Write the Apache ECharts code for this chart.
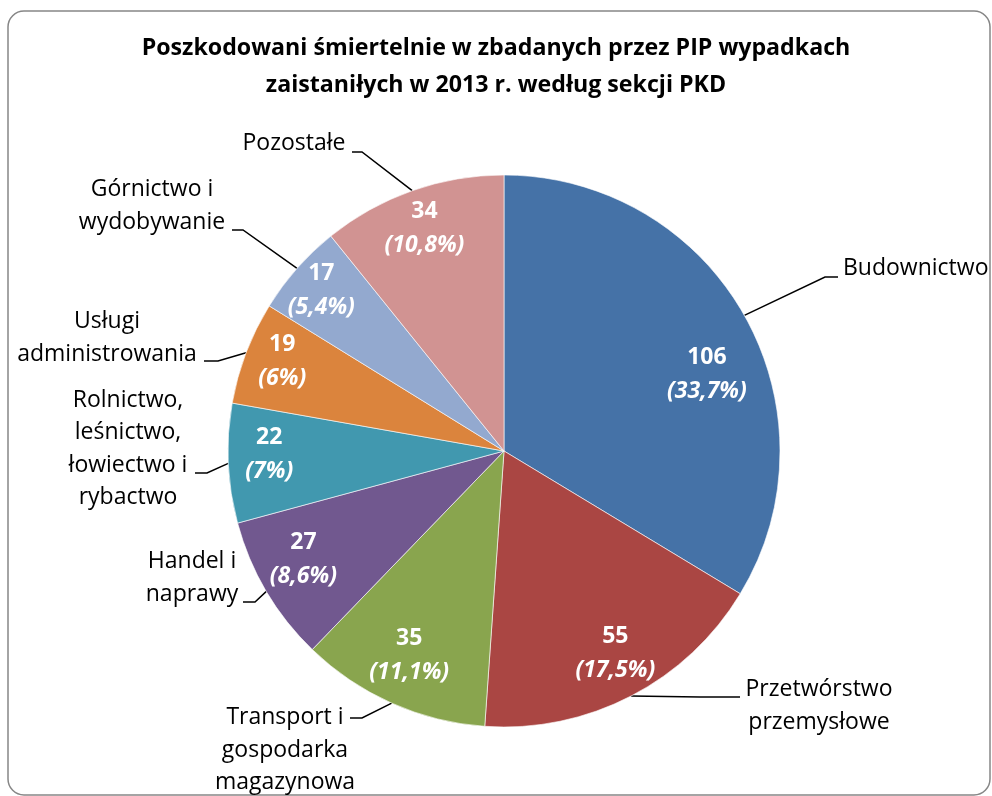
<!DOCTYPE html>
<html lang="pl">
<head>
    <meta charset="UTF-8">
    <title>Poszkodowani śmiertelnie</title>
    <style>
        html, body { margin: 0; padding: 0; background: #fff; }
        #pie { width: 992px; height: 796px; }
    </style>
</head>
<body>
    <div id="pie"></div>

    <script src="https://cdn.jsdelivr.net/npm/echarts@6/dist/echarts.min.js"></script>
    <script>
        // dane
        var categories = ['Budownictwo', 'Przetwórstwo\nprzemysłowe', 'Transport i\ngospodarka\nmagazynowa',
            'Handel i\nnaprawy', 'Rolnictwo,\nleśnictwo,\nłowiectwo i\nrybactwo', 'Usługi\nadministrowania',
            'Górnictwo i\nwydobywanie', 'Pozostałe'];
        var values = [106, 55, 35, 27, 22, 19, 17, 34];
        var colors = ['#4572A7', '#AA4643', '#89A54E', '#71588F', '#4198AF', '#DB843D', '#93A9CF', '#D19392'];

        // położenie etykiet zewnętrznych: [x, y, align], załamanie linii, koniec linii
        var labelPos = [
            [843, 268, 'left'], [819, 706, 'center'], [285, 750, 'center'], [192, 578, 'center'],
            [128, 449, 'center'], [107, 338, 'center'], [152, 206, 'center'], [294, 143, 'center']
        ];
        var labelBend = [[825, 277], [700, 697], [362, 718], [255, 602], [207, 473], [218, 361], [243, 230], [362, 152]];
        var labelEnd = [[838, 277], [740, 697], [350, 718], [243, 602], [195, 473], [204, 361], [232, 230], [352, 152]];
        // przesunięcie etykiet wewnętrznych (Excel "best fit")
        var innerShift = [[0, 38], [4, -4], [0, -8], [0, -10], [-2, -7], [-4, -7], [-8, -6], [-2, -3]];

        var myChart = echarts.init(document.getElementById('pie'));

        var pieData = categories.map(function (name, i) {
            return { name: name, value: values[i], itemStyle: { color: colors[i] } };
        });

        var total = values.reduce(function (a, b) { return a + b; }, 0);

        function pct(p) {
            var s = (Math.round(p * 10) / 10).toFixed(1).replace('.', ',');
            return s.replace(/,0$/, '');
        }

        myChart.setOption({
            animation: false,
            title: {
                text: 'Poszkodowani śmiertelnie w zbadanych przez PIP wypadkach\nzaistaniłych w 2013 r. według sekcji PKD',
                left: 'center',
                top: 30,
                padding: [0, 0, 0, 18],
                textStyle: {
                    fontFamily: 'Open Sans',
                    fontWeight: 'bold',
                    fontSize: 23.2,
                    lineHeight: 37,
                    color: '#000'
                }
            },
            graphic: [{
                type: 'rect',
                shape: { x: 8, y: 11, width: 982, height: 784, r: 16 },
                style: { fill: 'none', stroke: '#868686', lineWidth: 1.5 },
                silent: true
            }],
            series: [
                {
                    type: 'pie',
                    center: [504, 451],
                    radius: 276,
                    startAngle: 90,
                    clockwise: true,
                    data: pieData,
                    itemStyle: { borderColor: 'rgba(255,255,255,0.6)', borderWidth: 1 },
                    label: {
                        show: true,
                        position: 'outside',
                        formatter: '{b}',
                        fontFamily: 'Open Sans',
                        fontSize: 23,
                        lineHeight: 32.5,
                        color: '#000',
                        align: 'center'
                    },
                    labelLine: {
                        show: true,
                        lineStyle: { color: '#000', width: 1.5 }
                    },
                    labelLayout: function (params) {
                        var i = params.dataIndex;
                        var start = params.labelLinePoints ? params.labelLinePoints[0] : labelBend[i];
                        return {
                            x: labelPos[i][0],
                            y: labelPos[i][1],
                            align: labelPos[i][2],
                            verticalAlign: 'middle',
                            labelLinePoints: [start, labelBend[i], labelEnd[i]]
                        };
                    }
                },
                {
                    type: 'pie',
                    center: [504, 451],
                    radius: [184, 276],
                    startAngle: 90,
                    clockwise: true,
                    silent: true,
                    data: categories.map(function (name, i) {
                        return { name: name, value: values[i] };
                    }),
                    itemStyle: { color: 'rgba(0,0,0,0)' },
                    label: {
                        show: true,
                        position: 'inside',
                        formatter: function (p) {
                            return '{v|' + p.value + '}\n{p|(' + pct(p.value / total * 100) + '%)}';
                        },
                        rich: {
                            v: { fontFamily: 'Open Sans', fontWeight: 'bold', fontSize: 23, lineHeight: 34, color: '#fff' },
                            p: { fontFamily: 'Open Sans', fontWeight: 'bold', fontStyle: 'italic', fontSize: 23, lineHeight: 34, color: '#fff' }
                        }
                    },
                    labelLine: { show: false },
                    labelLayout: function (params) {
                        var s = innerShift[params.dataIndex];
                        return { dx: s[0], dy: s[1] };
                    }
                }
            ]
        });
    </script>
</body>
</html>
